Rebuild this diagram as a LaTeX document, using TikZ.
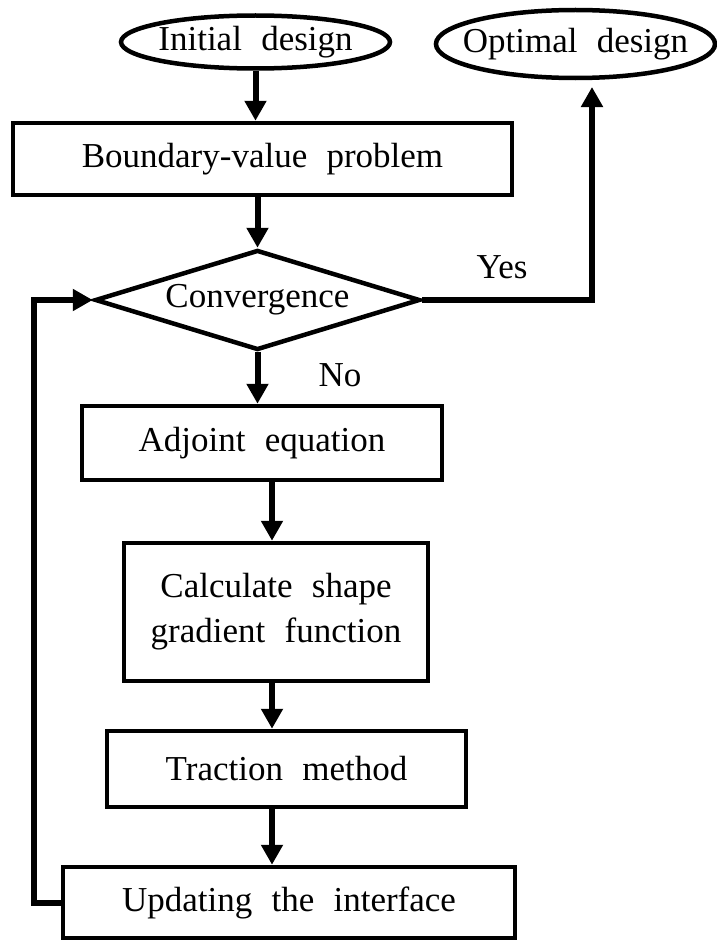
\documentclass[tikz,border=0pt]{standalone}
\usepackage{fontspec}
\setmainfont{Liberation Serif}
\usetikzlibrary{shapes.geometric,arrows.meta,positioning}
\newcommand{\flowfont}{\fontsize{35pt}{45pt}\selectfont\spaceskip=0.55em\relax}

\begin{document}
\begin{tikzpicture}[node distance=2cm,on grid,
    every node/.style={font=\flowfont},
    term/.style={ellipse,draw,line width=4.5pt,inner ysep=0pt},
    proc/.style={rectangle,draw,line width=4.5pt,inner sep=0pt,align=center},
    test/.style={diamond,draw,line width=4.5pt,inner sep=0pt,aspect=3.25},
    flow/.style={line width=6pt,-{Triangle[length=20pt,width=21pt]}}]
  \useasboundingbox (0,0) rectangle (716pt,-942pt);
  \node[term,inner xsep=-2pt,minimum height=53pt] (init) at (255.5pt,-42pt) {Initial design};
  \node[term,inner xsep=-14pt,minimum height=68pt] (opt) [right=320pt of init,yshift=-2pt] {Optimal design};
  \node[proc,minimum width=499pt,minimum height=72pt] (bvp) [below=117pt of init,xshift=7pt] {Boundary-value problem};
  \node[test,minimum width=325pt,minimum height=100pt] (conv) [below=141pt of bvp,xshift=-5pt] {Convergence};
  \node[proc,minimum width=360pt,minimum height=74pt] (adj) [below=143pt of conv,xshift=4.5pt] {Adjoint equation};
  \node[proc,minimum width=304pt,minimum height=138pt] (calc) [below=169pt of adj,xshift=14pt] {Calculate shape\\gradient function};
  \node[proc,minimum width=359pt,minimum height=76pt] (trac) [below=157pt of calc,xshift=10.5pt] {Traction method};
  \node[proc,minimum width=452pt,minimum height=71pt] (upd) [below=133.5pt of trac,xshift=2.5pt] {Updating the interface};
  \node (yes) at (502pt,-267pt) {Yes};
  \node (no) at (340pt,-375pt) {No};
  \coordinate (axis) at (272pt,0pt);
  \coordinate (top) at (592pt,-87pt);
  % main flow
  \draw[flow] (init.south) -- (init.south |- bvp.north);
  \draw[flow] (conv.north |- bvp.south) -- (conv.north);
  \draw[flow] (conv.south) -- (conv.south |- adj.north);
  \draw[flow] (adj.south -| axis) -- (calc.north -| axis);
  \draw[flow] (calc.south -| axis) -- (trac.north -| axis);
  \draw[flow] (trac.south -| axis) -- (upd.north -| axis);
  % yes branch and loop back
  \draw[flow] (conv.east) -| (top);
  \draw[flow] (upd.west) -- ++(-27pt,0pt) |- (conv.west);
\end{tikzpicture}
\end{document}
